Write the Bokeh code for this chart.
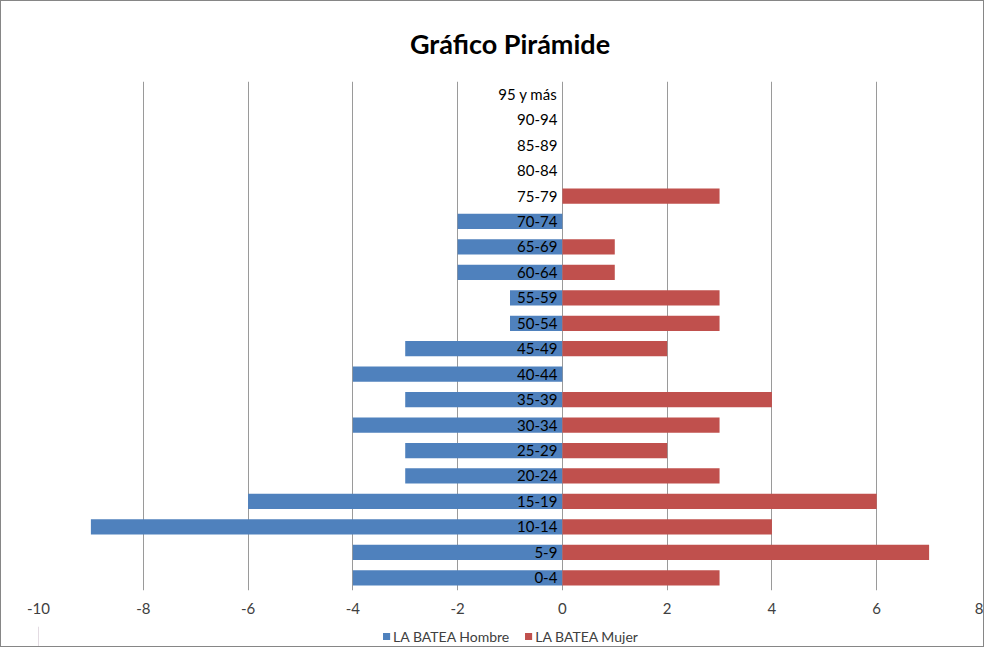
from bokeh.plotting import figure
from bokeh.layouts import column
from bokeh.models import ColumnDataSource, FactorRange, Legend, LegendItem, FixedTicker, Title
from bokeh.core.properties import value
from bokeh.embed import file_html
from bokeh.resources import INLINE

categories = ["0-4", "5-9", "10-14", "15-19", "20-24", "25-29", "30-34", "35-39",
              "40-44", "45-49", "50-54", "55-59", "60-64", "65-69", "70-74", "75-79",
              "80-84", "85-89", "90-94", "95 y más"]
hombre = [-4, -4, -9, -6, -3, -3, -4, -3, -4, -3, -1, -1, -2, -2, -2, 0, 0, 0, 0, 0]
mujer = [3, 7, 4, 6, 3, 2, 3, 4, 0, 2, 3, 3, 1, 1, 0, 3, 0, 0, 0, 0]
x_ticks = [-10, -8, -6, -4, -2, 0, 2, 4, 6, 8]
series_names = ["LA BATEA Hombre", "LA BATEA Mujer"]
title_text = "Gráfico Pirámide"

FONT = "Lato"
BLUE = "#4F81BD"
RED = "#C0504D"

src = ColumnDataSource(dict(cat=categories, h=hombre, m=mujer, zero=[0] * len(categories)))

# main chart
p = figure(frame_width=943, frame_height=509, output_backend="svg", toolbar_location=None,
           y_range=FactorRange(*categories), x_range=(-10, 8),
           min_border_left=37, min_border_right=2, min_border_top=80, min_border_bottom=36)
p.title = Title(text=title_text, align="center", text_font=FONT, text_font_size="27px",
                text_font_style="bold", text_color="#000000", standoff=44)
p.outline_line_color = None

p.hbar(y="cat", left="h", right="zero", height=0.6, source=src,
       fill_color=BLUE, line_color=None)
p.hbar(y="cat", left="zero", right="m", height=0.6, source=src,
       fill_color=RED, line_color=None)
p.text(x="zero", y="cat", text="cat", source=src, x_offset=-5,
       text_align="right", text_baseline="middle", text_font=value(FONT),
       text_font_size="15px", text_color="#000000")

p.yaxis.visible = False
p.ygrid.grid_line_color = None
p.xgrid.grid_line_color = "#9a9a9a"
p.xgrid.ticker = FixedTicker(ticks=x_ticks)
p.xaxis.ticker = FixedTicker(ticks=x_ticks)
p.xaxis.major_label_overrides = {t: str(t) for t in x_ticks}
p.xaxis.axis_line_color = None
p.xaxis.major_tick_line_color = None
p.xaxis.minor_tick_line_color = None
p.xaxis.major_tick_out = 0
p.xaxis.major_tick_in = 0
p.xaxis.minor_tick_out = 0
p.xaxis.major_label_text_font = FONT
p.xaxis.major_label_text_font_size = "15px"
p.xaxis.major_label_text_color = "#404040"
p.xaxis.major_label_standoff = 12

# legend strip (same series, its glyphs lie outside this strip's ranges)
lg = figure(width=982, height=20, output_backend="svg", toolbar_location=None,
            y_range=FactorRange(*categories), x_range=(100, 101),
            x_axis_location=None, y_axis_location=None,
            min_border_left=0, min_border_right=0, min_border_top=0, min_border_bottom=0)
lg.outline_line_color = None
lg.xgrid.grid_line_color = None
lg.ygrid.grid_line_color = None
lh = lg.hbar(y="cat", left="h", right="zero", height=0.6, source=src,
             fill_color=BLUE, line_color=None)
lm = lg.hbar(y="cat", left="zero", right="m", height=0.6, source=src,
             fill_color=RED, line_color=None)
legend = Legend(items=[LegendItem(label=series_names[0], renderers=[lh]),
                       LegendItem(label=series_names[1], renderers=[lm])],
                orientation="horizontal", location="center",
                label_text_font=FONT, label_text_font_size="14px", label_text_color="#404040",
                label_height=14, glyph_width=9, glyph_height=9, label_standoff=3, spacing=14,
                border_line_color=None, background_fill_alpha=0, margin=0, padding=0)
lg.add_layout(legend)

layout = column(p, lg, spacing=0, styles={"border": "1px solid #868686"})

open("out.html", "w").write(file_html(layout, INLINE))
